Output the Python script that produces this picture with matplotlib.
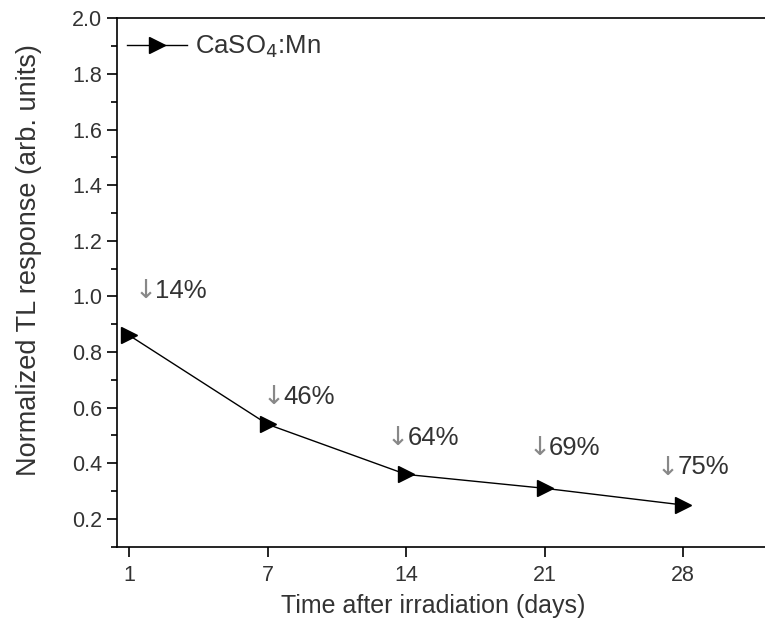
import matplotlib.pyplot as plt
from matplotlib.ticker import MultipleLocator

plt.rcParams['font.family'] = ['Liberation Sans', 'DejaVu Sans']

# data
days = ['1', '7', '14', '21', '28']
response = [0.86, 0.54, 0.36, 0.31, 0.25]
drops = ['14%', '46%', '64%', '69%', '75%']
# where each "drop" label sits (x offset from point, y in data units)
label_dx = [0.04, -0.04, -0.14, -0.12, -0.19]
label_y = [1.02, 0.64, 0.49, 0.455, 0.385]

fig = plt.figure(figsize=(7.65, 6.35), dpi=100)
ax = fig.add_axes([0.1526, 0.139, 0.8474, 0.8322])

x = list(range(len(days)))
ax.plot(x, response, color='black', lw=1.0, marker='>', markersize=12,
        label='CaSO$_4$:Mn')

for i in x:
    tx = i + label_dx[i]
    t = ax.text(tx, label_y[i], '\u2193', color='#888888', fontsize=19,
                va='center', ha='left', family=['DejaVu Sans'])
    ax.annotate(drops[i], xy=(1, 0.5), xycoords=t, xytext=(-1, 0),
                textcoords='offset points', va='center', ha='left',
                fontsize=18.5, color='#333333')

ax.set_xlim(-0.09, 4.59)
ax.set_ylim(0.1, 2.0)
ax.set_xticks(x)
ax.set_xticklabels(days)
ax.yaxis.set_major_locator(MultipleLocator(0.2))
ax.yaxis.set_minor_locator(MultipleLocator(0.1))
ax.set_yticks([0.2, 0.4, 0.6, 0.8, 1.0, 1.2, 1.4, 1.6, 1.8, 2.0])
ax.tick_params(axis='both', direction='out', labelsize=15.5, colors='black',
               labelcolor='#333333', width=1.2, length=7)
ax.tick_params(axis='x', pad=6)
ax.tick_params(axis='y', which='minor', direction='out', length=4, width=1.2)
ax.spines['right'].set_visible(False)
for s in ['left', 'top', 'bottom']:
    ax.spines[s].set_linewidth(1.2)

ax.set_xlabel('Time after irradiation (days)', fontsize=18, color='#333333')
ax.set_ylabel('Normalized TL response (arb. units)', fontsize=19.5, color='#333333')
ax.xaxis.set_label_coords(0.488, -0.089)
ax.yaxis.set_label_coords(-0.115, 0.543)

ax.legend(loc='upper left', bbox_to_anchor=(0.0, 0.99), frameon=False,
          fontsize=18.5, handlelength=2.35, borderaxespad=0.0,
          handletextpad=0.3, labelcolor='#333333')

fig.savefig('out.png', dpi=100)
